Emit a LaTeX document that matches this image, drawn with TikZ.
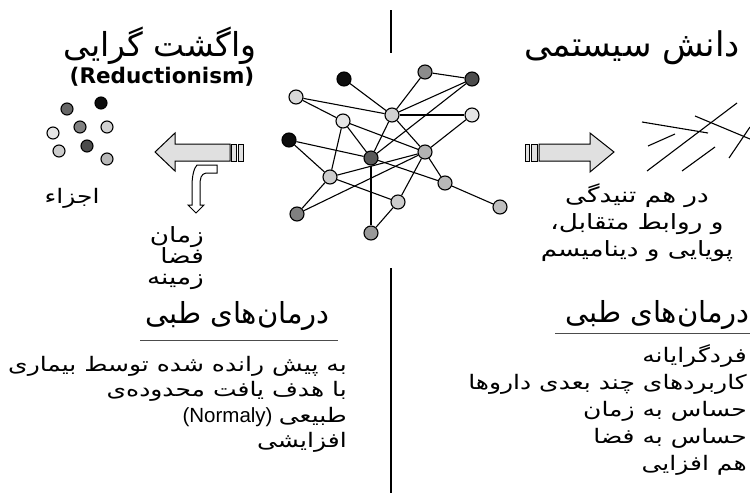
\documentclass[tikz,border=0pt]{standalone}
\usepackage{fontspec}
\setmainfont{DejaVu Sans}
\newfontfamily\farsi[Script=Arabic]{DejaVu Sans}
\newfontfamily\farsiwide[Script=Arabic,FakeStretch=1.25]{DejaVu Sans}
\newfontfamily\narrowlatin{Liberation Sans}
\TeXXeTstate=1
\newcommand{\fa}[1]{{\farsi\beginR #1\endR}}
\newcommand{\fw}[1]{{\farsiwide\beginR #1\endR}}
\newcommand{\tightlines}{\lineskiplimit=-30pt\relax}
\usetikzlibrary{positioning}

\begin{document}
\begin{tikzpicture}[x=1pt,y=-1pt,
  net node/.style={circle,draw,line width=1.1pt,minimum size=14pt,inner sep=0pt},
  part node/.style={circle,draw,line width=1.1pt,minimum size=12pt,inner sep=0pt},
  title text/.style={font=\fontsize{33}{36}\selectfont,inner sep=0pt},
  head text/.style={font=\fontsize{29}{32}\selectfont,inner sep=0pt},
  body text/.style={font=\fontsize{20}{25.5}\selectfont\tightlines,align=right,inner sep=0pt},
  block arrow/.style={draw,line width=1pt,fill=black!12}]

  \useasboundingbox (0,0) rectangle (750,493);

  % dividers
  \draw[line width=1.6pt] (391,10) -- (391,53);
  \draw[line width=1.6pt] (391,268) -- (391,493);

  % network
  \node[net node,fill=black!95] (A) at (344,79) {};
  \node[net node,fill=black!45] (B) at (425,72) {};
  \node[net node,fill=black!70] (C) at (472,79) {};
  \node[net node,fill=black!15] (D) at (296,97) {};
  \node[net node,fill=black!18] (E) at (392,115) {};
  \node[net node,fill=black!10] (F) at (472,115) {};
  \node[net node,fill=black!10] (G) at (343,121) {};
  \node[net node,fill=black!95] (H) at (289,140) {};
  \node[net node,fill=black!30] (I) at (425,152) {};
  \node[net node,fill=black!65] (J) at (371,158) {};
  \node[net node,fill=black!20] (K) at (330,177) {};
  \node[net node,fill=black!28] (L) at (445,183) {};
  \node[net node,fill=black!20] (M) at (398,202) {};
  \node[net node,fill=black!25] (N) at (500,207) {};
  \node[net node,fill=black!50] (O) at (297,214) {};
  \node[net node,fill=black!40] (P) at (371,233) {};

  \path[line width=1.1pt]
    (A) edge (E)
    (B) edge (E)
    (B) edge (C)
    (C) edge (E)
    (C) edge (J)
    (D) edge (E)
    (D) edge (G)
    (G) edge (I)
    (E) edge (F)
    (E) edge (J)
    (E) edge (I)
    (I) edge (L)
    (F) edge (I)
    (G) edge (J)
    (G) edge (K)
    (H) edge (J)
    (H) edge (K)
    (J) edge (L)
    (J) edge (P)
    (K) edge (M)
    (K) edge (I)
    (K) edge (O)
    (O) edge (I)
    (I) edge (M)
    (M) edge (P)
    (L) edge (N);

  % parts
  \node[part node,fill=black!60] (p1) at (67,109) {};
  \node[part node,fill=black!95] (p2) at (101,103) {};
  \node[part node,fill=black!50] (p3) at (80,127) {};
  \node[part node,fill=black!18] (p4) at (107,127) {};
  \node[part node,fill=black!10] (p5) at (53,133) {};
  \node[part node,fill=black!70] (p6) at (87,146) {};
  \node[part node,fill=black!20] (p7) at (59,151) {};
  \node[part node,fill=black!28] (p8) at (107,159) {};

  % arrows
  \draw[block arrow] (230,144) -- (175,144) -- (175,133) -- (155,152) -- (175,171) -- (175,161) -- (230,161) -- cycle;
  \draw[block arrow] (231,144) rectangle (236,161);
  \draw[block arrow] (238,144) rectangle (243,161);
  \draw[line width=1pt,fill=white] (197,165) -- (217,165) -- (217,173) -- (206,173)
    .. controls (201,174) and (200,178) .. (200,186) -- (200,205) -- (204,205) -- (196,213)
    -- (188,205) -- (192,205) -- (192,186) .. controls (192,176) and (194,168) .. (197,165) -- cycle;
  \draw[block arrow] (539,144) -- (590,144) -- (590,133) -- (614,152) -- (590,172) -- (590,161) -- (539,161) -- cycle;
  \draw[block arrow] (525,144) rectangle (529,161);
  \draw[block arrow] (531,144) rectangle (537,161);

  % tangled lines
  \draw[line width=1.1pt] (642,122) -- (708,133);
  \draw[line width=1.1pt] (648,146) -- (675,134);
  \draw[line width=1.1pt] (647,171) -- (737,103);
  \draw[line width=1.1pt] (682,171) -- (715,147);
  \draw[line width=1.1pt] (695,116) -- (750,139);
  \draw[line width=1.1pt] (729,158) -- (750,127);

  % texts
  \node[title text] (redTitle) at (160,46) {\fa{واگشت گرایی}};
  \node[font=\bfseries\fontsize{21.5}{24}\selectfont,inner sep=0pt] (redName) at (162,77) {(Reductionism)};
  \node[title text,font=\fontsize{34}{36}\selectfont] (sysTitle) at (632,48) {\fa{دانش سیستمی}};
  \node[body text] (parts) at (72,198) {\fw{اجزاء}};
  \node[body text,font=\fontsize{21}{21}\selectfont\tightlines,anchor=north east] (context) at (204,226)
    {\fw{زمان}\\\fw{فضا}\\\fw{زمینه}};
  \node[body text,font=\fontsize{21}{27}\selectfont\tightlines,align=center,anchor=north] (tangle) at (637,183)
    {\fw{در هم تنیدگی}\\\fw{و روابط متقابل،}\\\fw{پویایی و دینامیسم}};

  \node[head text,anchor=east] (leftHead) at (330,316) {\fa{درمان‌های طبی}};
  \draw[line width=1pt,black!70] (140,340) -- (338,340);
  \node[body text,anchor=north east] (leftList) at (347,356)
    {\fw{به پیش رانده شده توسط بیماری}\\\fw{با هدف یافت محدوده‌ی}\\{\narrowlatin\fontsize{20.5}{20}\selectfont (Normaly)} \fw{طبیعی}\\\fw{افزایشی}};

  \node[head text,anchor=east] (rightHead) at (750,315) {\fa{درمان‌های طبی}};
  \draw[line width=1pt,black!70] (555,333) -- (750,333);
  \node[body text,font=\fontsize{20}{27}\selectfont\tightlines,anchor=north east] (rightList) at (747,344)
    {\fw{فردگرایانه}\\\fw{کاربردهای چند بعدی داروها}\\\fw{حساس به زمان}\\\fw{حساس به فضا}\\\fw{هم افزایی}};
\end{tikzpicture}
\end{document}
